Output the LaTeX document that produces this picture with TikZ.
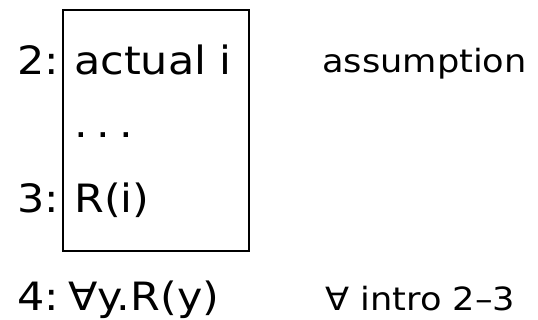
\documentclass[tikz,border=0pt]{standalone}
\usepackage{fontspec}
\setmainfont{DejaVu Sans}[FakeStretch=1.1]
\begin{document}
\begin{tikzpicture}[x=1pt,y=-1pt,
	line/.style={anchor=base west,inner sep=0pt,font=\fontsize{39}{47}\selectfont},
	rule/.style={anchor=base west,inner sep=0pt,font=\fontsize{32}{38}\selectfont}]
	\useasboundingbox (0,0) rectangle (538,320);
	\foreach \y/\n in {75/2,213/3,310/4}\path (17,\y) node[line](n\n){\n:};
	\foreach \y/\gt[count=\i] in {75/actual i,138/.\kern9pt.\kern9pt.,213/R(i)}\path (74,\y) node[line](f\i){\gt};
	\path (68,310) node[line](f4){∀y.R(y)};
	\path (322,73) node[rule](r2){assumption};
	\path (325,310) node[rule](r4){∀ intro 2–3};
	\draw[line width=2pt] (63,10) rectangle (249,251);
\end{tikzpicture}
\end{document}
